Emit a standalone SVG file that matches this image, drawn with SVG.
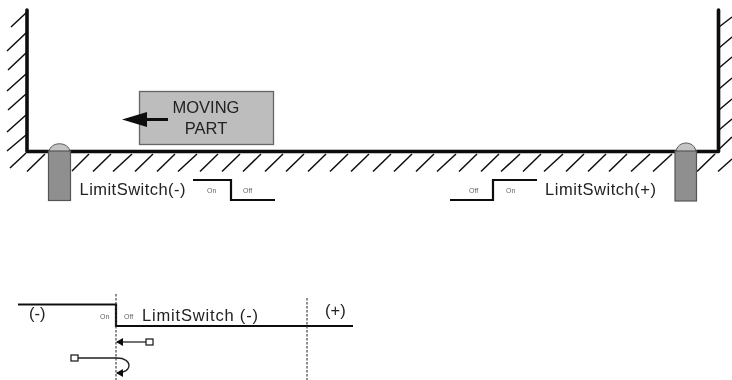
<svg xmlns="http://www.w3.org/2000/svg" width="732" height="380" viewBox="0 0 732 380">
<style>
text{font-family:"Liberation Sans",Arial,sans-serif;fill:#222}
.lbl{font-size:16.500px}
.tiny{font-size:7px;fill:#666}
.hatch{fill:none;stroke:#111;stroke-width:1.500}
.thick{fill:none;stroke:#111;stroke-width:3.600;stroke-linecap:round;stroke-linejoin:round}
.step{fill:none;stroke:#111;stroke-width:2.200}
.dash{fill:none;stroke:#333;stroke-width:1.100;stroke-dasharray:2.500 1.500}
.thin{fill:none;stroke:#222;stroke-width:1.300}
.sensor{fill:#8f8f8f;stroke:#555;stroke-width:1.200}
.cap{fill:#c4c4c4;stroke:#555;stroke-width:1}
.tag{fill:#fff;stroke:#222;stroke-width:1.300}
</style>
<defs>
<filter id="soft" x="-2%" y="-2%" width="104%" height="104%"><feGaussianBlur stdDeviation="0.35"/></filter>
<marker id="head" markerWidth="7" markerHeight="8" refX="6" refY="4" orient="auto" markerUnits="userSpaceOnUse"><path d="M0 0L7 4L0 8Z" fill="#111"/></marker>
</defs>
<g filter="url(#soft)">
<g id="walls">
<path class="hatch" d="M11 27L27 12M7 51L26 33M8 70L26 53M7 91L26 74M8 110L26 94M7 132L26 115M7 151L26 135"/>
<path class="hatch" d="M10 168L26 153M27 171.500L45 154M72 171L89 154M93 171.500L111 154M113 171.500L132 154M135 171.500L153 154M157 171.500L175 154M178 171.500L197 154M200 171.500L218 154M222 171.500L240 154M243 171.500L261 154M265 171.500L283 154M286 171.500L304 154M308 171.500L326 154M330 171.500L348 154M351 171.500L369 154M373 171.500L391 154M394 171.500L412 154M416 171.500L434 154M437 171.500L456 154M459 171.500L477 154M481 171.500L499 154M501 171.500L520 154M523 171.500L541 154M544 171.500L563 154M566 171.500L584 154M588 171.500L606 154M609 171.500L627 154M631 171.500L650 154M653 171.500L672 154M697 171.500L715 154M718 171.500L732 159"/>
<path class="hatch" d="M719 27L732 17M719 48L732 37M719 68L732 57M719 89L732 78M719 110L732 99M719 130L732 119M715 153L732 137"/>
<path class="thick" d="M27 10V151.500H718.500V10"/>
</g>
<g id="moving-part">
<rect x="139.500" y="91.500" width="134" height="53" fill="#bdbdbd" stroke="#666" stroke-width="1.300"/>
<path d="M168 119.500H145" fill="none" stroke="#111" stroke-width="3"/>
<path d="M122 119.500L147 112V127Z" fill="#111"/>
<text class="lbl" x="206" y="113" text-anchor="middle">MOVING</text>
<text class="lbl" x="206" y="134" text-anchor="middle">PART</text>
</g>
<g id="limit-switch-minus">
<path class="cap" d="M49 152C50 141 69 141 70 152Z"/>
<rect class="sensor" x="48.500" y="151" width="22" height="49.500"/>
<text class="lbl" x="79.500" y="195" textLength="106">LimitSwitch(-)</text>
<path class="step" d="M193 180H231V200H275"/>
<text class="tiny" x="207" y="193">On</text>
<text class="tiny" x="243" y="193">Off</text>
</g>
<g id="limit-switch-plus">
<path class="cap" d="M676 152C677 140 695 140 696 152Z"/>
<rect class="sensor" x="675" y="151" width="21.500" height="50"/>
<text class="lbl" x="545" y="195" textLength="111">LimitSwitch(+)</text>
<path class="step" d="M450 200H493V180H537"/>
<text class="tiny" x="469" y="193">Off</text>
<text class="tiny" x="506" y="193">On</text>
</g>
<g id="connectors">
<path class="step" d="M18 304.500H116V326H353"/>
<path class="dash" d="M116 294V380"/>
<path class="dash" d="M307 298V380"/>
<path class="thin" marker-end="url(#head)" d="M146 342H117"/>
<path class="thin" marker-end="url(#head)" d="M78 358H117C133 358 133 373 117 373"/>
</g>
<g id="chart-labels">
<rect class="tag" x="146" y="339" width="7" height="6"/>
<rect class="tag" x="71" y="355" width="7" height="6"/>
<text class="lbl" x="29" y="319">(-)</text>
<text class="tiny" x="100" y="319">On</text>
<text class="tiny" x="124" y="319">Off</text>
<text class="lbl" x="142" y="320.500" textLength="116">LimitSwitch (-)</text>
<text class="lbl" x="325" y="316">(+)</text>
</g>
</g>
</svg>
